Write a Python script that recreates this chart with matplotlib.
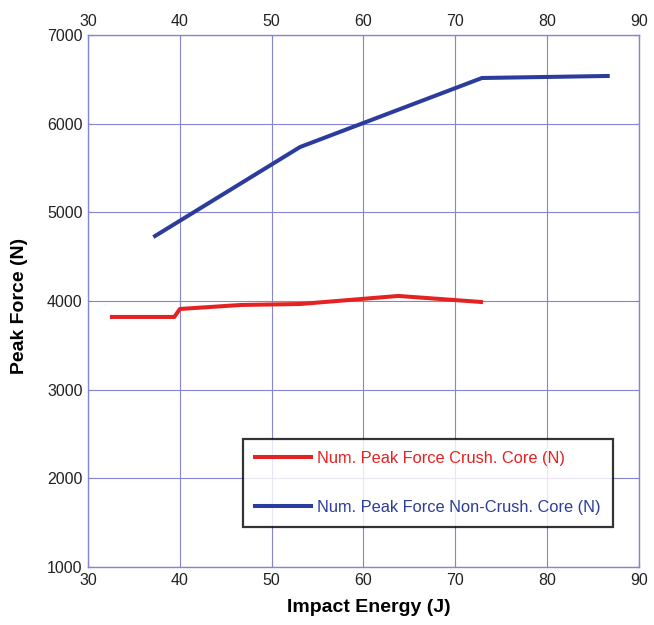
import matplotlib.pyplot as plt
from matplotlib import font_manager

# data
energy_crush = [32.6, 39.4, 40.0, 46.6, 53.1, 63.8, 72.8]
force_crush = [3820, 3820, 3910, 3955, 3966, 4057, 3989]

energy_noncrush = [37.3, 53.1, 72.9, 86.6]
force_noncrush = [4733, 5737, 6515, 6538]

xticks = [30, 40, 50, 60, 70, 80, 90]
yticks = [1000, 2000, 3000, 4000, 5000, 6000, 7000]

names = {f.name for f in font_manager.fontManager.ttflist}
narrow = 'Liberation Sans Narrow' if 'Liberation Sans Narrow' in names else 'Liberation Sans'

plt.rcParams['font.family'] = ['Liberation Sans', 'DejaVu Sans']

red = '#e52222'
blue = '#2b3c9c'
grid_c = '#8585d2'

fig = plt.figure(figsize=(6.54, 6.25), dpi=100)
ax = fig.add_axes([0.1346, 0.0928, 0.8424, 0.8512])

ax.plot(energy_crush, force_crush, color=red, lw=2.9,
        label='Num. Peak Force Crush. Core (N)')
ax.plot(energy_noncrush, force_noncrush, color=blue, lw=2.9,
        label='Num. Peak Force Non-Crush. Core (N)')

ax.set_xlim(30, 90)
ax.set_ylim(1000, 7000)
ax.set_xticks(xticks)
ax.set_yticks(yticks)
ax.grid(True, color=grid_c, lw=0.8)
for s in ax.spines.values():
    s.set_color(grid_c)
    s.set_linewidth(1.0)
ax.tick_params(direction='in', top=True, right=True, labeltop=True,
               color=grid_c, labelsize=11.5, labelcolor='#222222', pad=4)

ax.set_xlabel('Impact Energy (J)', family=narrow, fontweight='bold', fontsize=14)
ax.set_ylabel('Peak Force (N)', family=narrow, fontweight='bold', fontsize=14)
ax.xaxis.set_label_coords(0.51, -0.060)
ax.yaxis.set_label_coords(-0.109, 0.49)

leg = ax.legend(loc='lower right', bbox_to_anchor=(0.953, 0.075), fontsize=11.8,
                frameon=True, fancybox=False, edgecolor='black',
                handlelength=3.4, borderpad=0.75, labelspacing=2.05,
                handletextpad=0.4, borderaxespad=0)
leg.get_frame().set_linewidth(1.6)
for txt, line in zip(leg.get_texts(), leg.get_lines()):
    txt.set_color(line.get_color())

fig.savefig('out.png', dpi=100)
